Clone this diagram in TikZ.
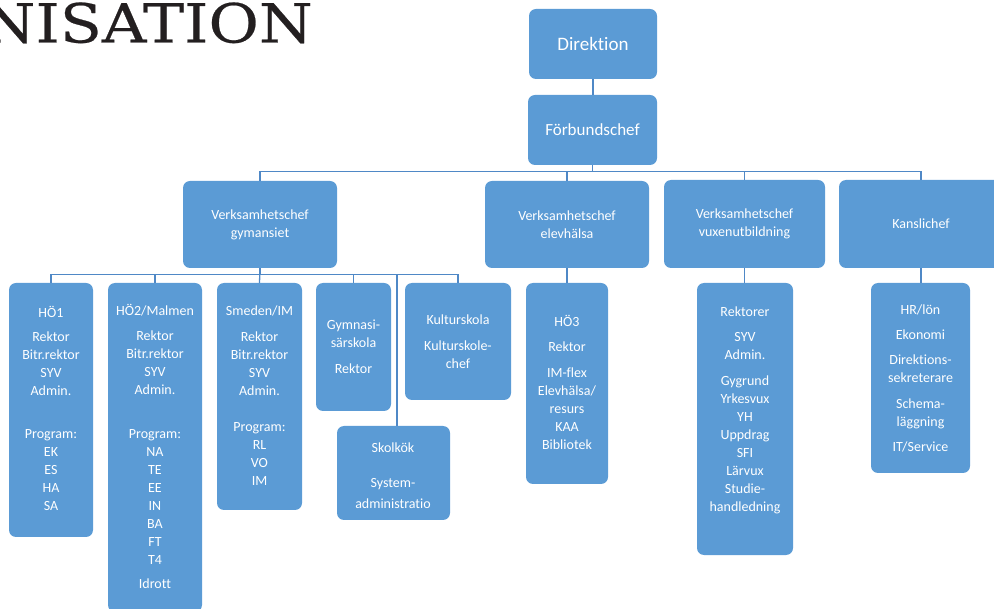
\documentclass[tikz,border=0pt]{standalone}
\usepackage{fontspec}
\setmainfont{Carlito}[Ligatures={NoCommon}]
\newfontfamily\titlefont{DejaVu Serif}[FakeBold=0.4]
\definecolor{boxblue}{HTML}{5B9BD5}
\definecolor{lineblue}{HTML}{4F88C6}
\definecolor{titlegray}{HTML}{231F20}
\begin{document}
\begin{tikzpicture}[x=1pt,y=-1pt,
  box/.style={fill=boxblue, rounded corners=7pt, inner sep=0pt, text=white, align=center, font=\fontsize{14}{18}\selectfont},
  txt/.style={text=white, align=center, inner sep=0pt, anchor=north, font=\fontsize{14}{18}\selectfont},
  conn/.style={draw=lineblue, line width=1.3pt}]
\useasboundingbox (0,0) rectangle (994,609);
\clip (0,0) rectangle (994,609);
% title
\node[font=\titlefont\fontsize{54}{60}\selectfont, xscale=1.14, anchor=base east, inner sep=0pt, text=titlegray] (title) at (313,42.5) {NISATION};
% top level
\node[box, minimum width=128pt, minimum height=70pt, font=\fontsize{19}{23}\selectfont] (dir) at (593,44) {Direktion};
\node[box, minimum width=129pt, minimum height=70pt, font=\fontsize{17}{21}\selectfont] (fb) at (592.5,130) {Förbundschef};
% second level
\node[box, minimum width=154pt, minimum height=87pt] (vg) at (260,224.5) {Verksamhetschef\\gymansiet};
\node[box, minimum width=164pt, minimum height=87pt] (ve) at (567,224.5) {Verksamhetschef\\elevhälsa};
\node[box, minimum width=161pt, minimum height=88pt] (vv) at (744.5,224) {Verksamhetschef\\vuxenutbildning};
\node[box, minimum width=164pt, minimum height=88pt] (ks) at (921,224) {Kanslichef};
% third level boxes
\node[box, minimum width=84pt, minimum height=254pt] (h1) at (51,410) {};
\node[box, minimum width=94pt, minimum height=329pt] (h2) at (155,447.5) {};
\node[box, minimum width=85pt, minimum height=227pt] (sm) at (259.5,396.5) {};
\node[box, minimum width=75pt, minimum height=128pt] (gs) at (353.5,347) {};
\node[box, minimum width=106pt, minimum height=117pt] (ku) at (458,341.5) {};
\node[box, minimum width=113pt, minimum height=94pt] (sk) at (393.5,473) {};
\node[box, minimum width=82pt, minimum height=201pt] (h3) at (567,383.5) {};
\node[box, minimum width=96pt, minimum height=272pt] (vx) at (745,419) {};
\node[box, minimum width=99pt, minimum height=190pt] (kc) at (920.5,378) {};
% texts
\node[txt] (t1) at (51,305.5) {\rule{0pt}{12pt}HÖ1\\[6pt]Rektor\\Bitr.rektor\\SYV\\Admin.\\[25pt]Program:\\EK\\ES\\HA\\SA};
\node[txt] (t2) at (155,303.5) {\rule{0pt}{12pt}HÖ2/Malmen\\[7pt]Rektor\\Bitr.rektor\\SYV\\Admin.\\[26pt]Program:\\NA\\TE\\EE\\IN\\BA\\FT\\T4\\[6pt]Idrott};
\node[txt] (t3) at (259.5,303.5) {\rule{0pt}{12pt}Smeden/IM\\[8pt]Rektor\\Bitr.rektor\\SYV\\Admin.\\[18pt]Program:\\RL\\VO\\IM};
\node[txt] (t4) at (353.5,317.5) {\rule{0pt}{12pt}Gymnasi-\\särskola\\[8pt]Rektor};
\node[txt] (t5) at (458,312.5) {\rule{0pt}{12pt}Kulturskola\\[8pt]Kulturskole-\\chef};
\node[txt] (t6) at (393,440.5) {\rule{0pt}{12pt}Skolkök\\[17pt]System-\\[3pt]administratio};
\node[txt] (t7) at (567,314.5) {\rule{0pt}{12pt}HÖ3\\[7pt]Rektor\\[8pt]IM-flex\\Elevhälsa/\\resurs\\KAA\\Bibliotek};
\node[txt] (t8) at (745,304.5) {\rule{0pt}{12pt}Rektorer\\[7pt]SYV\\Admin.\\[8pt]Gygrund\\Yrkesvux\\YH\\Uppdrag\\SFI\\Lärvux\\Studie-\\handledning};
\node[txt] (t9) at (920.5,302.5) {\rule{0pt}{12pt}HR/lön\\[7pt]Ekonomi\\[7pt]Direktions-\\sekreterare\\[8pt]Schema-\\läggning\\[7pt]IT/Service};
% connectors
\draw[conn] (dir.south) -- (dir.south |- fb.north);
\draw[conn] (fb.south) |- ([yshift=9pt]vg.north) -- (vg.north);
\draw[conn] (fb.south) |- ([yshift=9pt]ve.north) -- (ve.north);
\draw[conn] (fb.south) |- ([yshift=8pt]vv.north) -- (vv.north);
\draw[conn] (fb.south) |- ([yshift=8pt]ks.north) -- (ks.north);
\draw[conn] (vg.south) |- ([yshift=8pt]h1.north) -- (h1.north);
\draw[conn] (vg.south) |- ([yshift=8pt]h2.north) -- (h2.north);
\draw[conn] (vg.south) -- (sm.north);
\draw[conn] (vg.south) |- ([yshift=8pt]gs.north) -- (gs.north);
\draw[conn] (vg.south) |- ([yshift=8pt]ku.north) -- (ku.north);
\draw[conn] (vg.south) |- ([xshift=3.5pt,yshift=151pt]sk.north) -- ([xshift=3.5pt]sk.north);
\draw[conn] (ve.south) -- (h3.north);
\draw[conn] (vv.south) -- (vv.south |- vx.north);
\draw[conn] (ks.south) -- (ks.south |- kc.north);
\end{tikzpicture}
\end{document}
